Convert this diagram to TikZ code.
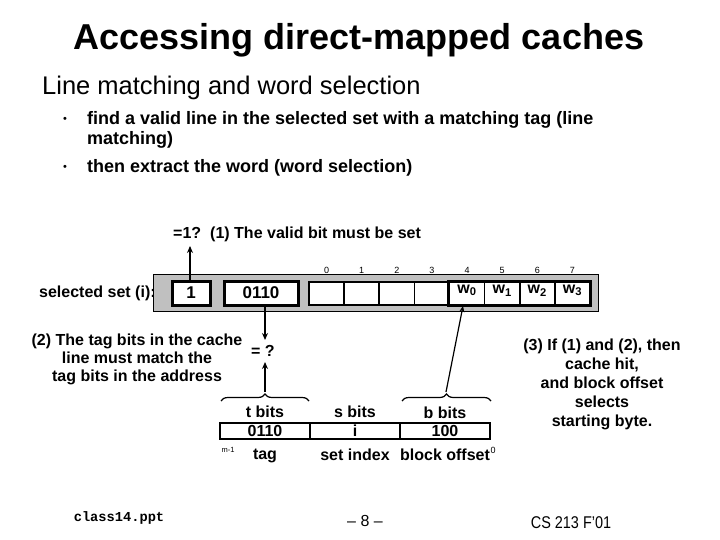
\documentclass[tikz,border=0pt]{standalone}
\usepackage{fontspec}
\setmainfont{Liberation Sans}
\newfontfamily\monofont{Liberation Mono}
\usetikzlibrary{arrows.meta,decorations.pathreplacing}
\definecolor{linegray}{RGB}{192,192,192}
\tikzset{
  lbl/.style={font=\bfseries\fontsize{16}{19}\selectfont, inner sep=0pt},
  tiny/.style={font=\fontsize{9}{10}\selectfont, inner sep=0pt},
  wlbl/.style={font=\bfseries\fontsize{16}{19}\selectfont, inner sep=0pt},
  bitbox/.style={draw, line width=3pt, fill=white, minimum height=24pt, inner sep=0pt, font=\bfseries\fontsize{17}{19}\selectfont},
  bytecell/.style={draw, line width=1.5pt, fill=white, minimum width=35.1pt, minimum height=23pt, inner sep=0pt},
  addrcell/.style={draw, line width=1.5pt, minimum width=90pt, minimum height=16pt, inner sep=0pt, font=\bfseries\fontsize{16}{18}\selectfont},
  arr/.style={line width=1.5pt, -{Stealth[length=7pt,width=6pt]}},
  brc/.style={line width=1.2pt, decorate, decoration={brace, amplitude=7pt}},
}
\begin{document}
\begin{tikzpicture}[x=1pt,y=-1pt]
\useasboundingbox[fill=white] (0,0) rectangle (720,540);
% title and text
\node[font=\bfseries\fontsize{36}{40}\selectfont, inner sep=0pt] (title) at (359,40) {Accessing direct-mapped caches};
\node[anchor=west, font=\fontsize{25.5}{30}\selectfont, inner sep=0pt] (sub) at (42,88) {Line matching and word selection};
\node[font=\fontsize{11}{12}\selectfont] (b1) at (65,120) {\textbullet};
\node[anchor=west, inner sep=0pt, font=\bfseries\fontsize{18}{20}\selectfont, align=left] (t1) at (87,129.5) {find a valid line in the selected set with a matching tag (line\\matching)};
\node[font=\fontsize{11}{12}\selectfont] (b2) at (65,168) {\textbullet};
\node[anchor=west, inner sep=0pt, font=\bfseries\fontsize{18}{20}\selectfont] (t2) at (87,168) {then extract the word (word selection)};

% cache line
\node[lbl, anchor=west] (sel) at (39,293) {selected set (i):};
\node[draw, line width=1pt, fill=linegray, minimum width=445pt, minimum height=37pt, inner sep=0pt] (line) at (375.5,292.5) {};
\node[bitbox, minimum width=38pt] (valid) at (191,293) {1};
\node[bitbox, minimum width=74pt] (tag) at (261,293) {0110};
\foreach \k in {0,...,7}{
  \node[bytecell] (c\k) at ({309+35.125*(\k+0.5)},293.5) {};
  \node[tiny] (n\k) at ({309+35.125*(\k+0.5)},270) {\k};
}
\node[wlbl] (w0) at ([yshift=3pt]c4) {w\textsubscript{0}};
\node[wlbl] (w1) at ([yshift=3pt]c5) {w\textsubscript{1}};
\node[wlbl] (w2) at ([yshift=3pt]c6) {w\textsubscript{2}};
\node[wlbl] (w3) at ([yshift=3pt]c7) {w\textsubscript{3}};
\draw[line width=3pt] (c4.north west) rectangle (c7.south east);

% valid bit check
\node[lbl, anchor=west] (q1) at (173,234) {=1?\hspace{9pt}(1) The valid bit must be set};
\coordinate (vtop) at (190,246);
\draw[arr] (valid.north -| vtop) -- (vtop);

% tag compare
\node[lbl] (eq) at (263,351) {= ?};
\draw[arr] ([xshift=4pt]tag.south) -- (265,340);
\node[lbl, align=center, font=\bfseries\fontsize{16}{18}\selectfont] (t2txt) at (137,359) {(2) The tag bits in the cache\\line must match the\\tag bits in the address};

% address
\node[addrcell] (atag) at (265,431) {0110};
\node[addrcell] (aset) at (355,431) {i};
\node[addrcell] (aoff) at (445,431) {100};
\node[lbl] (tb) at (265,412) {t bits};
\node[lbl] (sb) at (355,412) {s bits};
\node[lbl] (bb) at (445,413) {b bits};
\node[lbl] (tg) at (265,456) {tag};
\node[lbl] (si) at (355,455) {set index};
\node[lbl] (bo) at (445,455) {block offset};
\node[font=\fontsize{7.5}{8}\selectfont, inner sep=0pt] (m1) at (228,450) {m-1};
\node[font=\fontsize{9}{9}\selectfont, inner sep=0pt] (z0) at (493,450) {0};

\draw[brc] (221,401) -- (309,401);
\draw[brc] (402,401) -- (491,401);
\coordinate (ttip) at (265,392);
\coordinate (btip) at (446,392);
\draw[arr] (ttip) -- (265,362);
\draw[line width=1.2pt, -{Stealth[length=6pt,width=5pt]}] (btip) -- (463,306);

\node[lbl, align=center, font=\bfseries\fontsize{16}{19}\selectfont] (t3txt) at (602,384) {(3) If (1) and (2), then\\cache hit,\\and block offset\\selects\\starting byte.};

% footer
\node[font=\monofont\bfseries\fontsize{13.7}{15}\selectfont, inner sep=0pt] (f1) at (119,518) {class14.ppt};
\node[font=\fontsize{16}{18}\selectfont, inner sep=0pt] (f2) at (365,521) {– 8 –};
\node[font=\fontsize{17}{19}\selectfont, inner sep=0pt] (f3) at (571,523) {\scalebox{0.85}[1]{CS 213 F'01}};
\end{tikzpicture}
\end{document}
